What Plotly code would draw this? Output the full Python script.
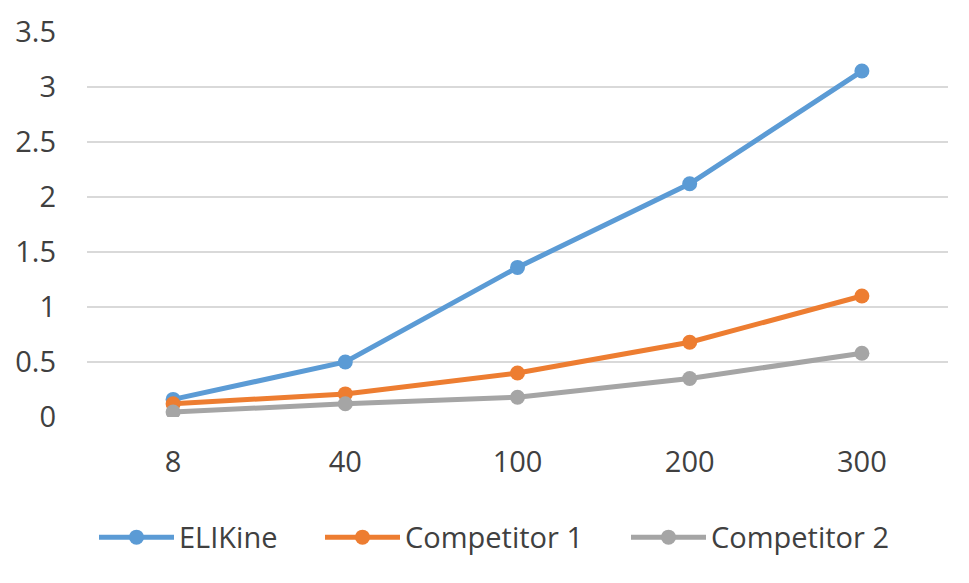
import plotly.graph_objects as go

categories = ["8", "40", "100", "200", "300"]
elikine = [0.16, 0.50, 1.36, 2.12, 3.145]
competitor1 = [0.12, 0.21, 0.40, 0.68, 1.10]
competitor2 = [0.045, 0.12, 0.18, 0.35, 0.58]
y_ticks = [0, 0.5, 1, 1.5, 2, 2.5, 3, 3.5]
y_tick_labels = ["0", "0.5", "1", "1.5", "2", "2.5", "3", "3.5"]

series = [
    ("ELIKine", elikine, "#5B9BD5", "legend"),
    ("Competitor 1", competitor1, "#ED7D31", "legend2"),
    ("Competitor 2", competitor2, "#A5A5A5", "legend3"),
]

fig = go.Figure()
for name, vals, color, lg in series:
    fig.add_trace(go.Scatter(
        x=categories, y=vals, name=name, mode="lines+markers",
        line=dict(color=color, width=5),
        marker=dict(color=color, size=15),
        legend=lg,
    ))

font_color = "#404040"
plot_left, plot_w = 79 + 8, 861


def legend_at(px):
    return dict(orientation="h", x=(px - plot_left) / plot_w, xanchor="left",
                y=-0.3125, yanchor="middle",
                font=dict(size=29, color=font_color), itemwidth=75,
                bgcolor="rgba(0,0,0,0)")


fig.update_layout(
    width=969, height=583,
    margin=dict(l=79, r=29, t=24, b=174, autoexpand=False),
    paper_bgcolor="white", plot_bgcolor="white",
    font=dict(family="Open Sans", size=29, color=font_color),
    showlegend=True,
    legend=legend_at(94),
    legend2=legend_at(320),
    legend3=legend_at(626),
    xaxis=dict(type="category", range=[-0.5, 4.5], showgrid=False, zeroline=False,
               showline=False, ticks="", ticklabelstandoff=25, automargin=False,
               tickfont=dict(size=29, color=font_color)),
    yaxis=dict(range=[0, 3.5], tickvals=y_ticks, ticktext=y_tick_labels,
               showgrid=True, gridcolor="#D9D9D9", gridwidth=1.5, zeroline=False,
               showline=False, ticks="", ticklabelstandoff=30, automargin=False,
               tickfont=dict(size=29, color=font_color)),
)
fig.write_html("out.html")
